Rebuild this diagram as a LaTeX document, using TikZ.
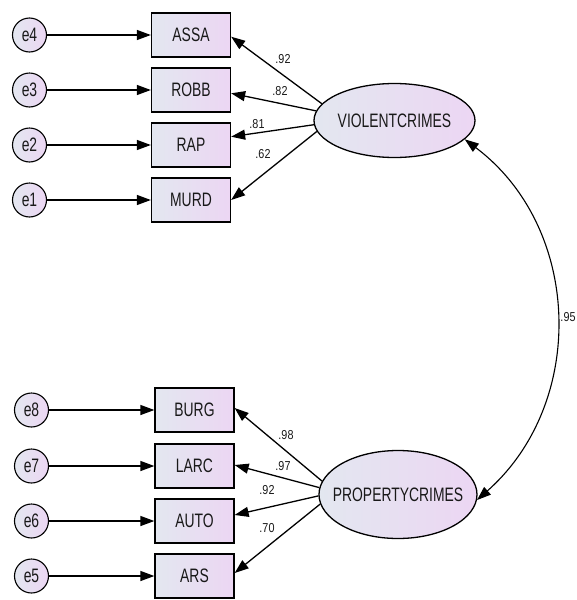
\documentclass[tikz,border=0pt]{standalone}
\usepackage{fontspec}
\usepackage{graphicx}
\setmainfont{Liberation Sans}
\usetikzlibrary{arrows.meta,shapes.geometric,calc}
\definecolor{shadeL}{RGB}{227,231,240}
\definecolor{shadeR}{RGB}{236,214,243}
\definecolor{inkgray}{RGB}{25,25,25}
% tall, narrow lettering of the variable names
\newcommand{\tallname}[1]{\scalebox{1}[1.4]{#1}}
\newcommand{\tallnum}[1]{\scalebox{1}[1.2]{#1}}
\begin{document}
\begin{tikzpicture}[x=1pt,y=1pt,
  shaded/.style={draw=black, line width=1.3pt, left color=shadeL, right color=shadeR,
    inner sep=0pt, text=inkgray, font=\fontsize{13.9}{14}\selectfont},
  obsbox/.style={shaded, rectangle, minimum width=79pt, minimum height=44pt},
  errnode/.style={shaded, circle, minimum size=34pt, line width=1.1pt},
  latent/.style={shaded, ellipse, inner xsep=-20pt},
  regpath/.style={line width=1.3pt, -{Triangle[length=14pt,width=10pt]}},
  covpath/.style={line width=1.1pt, {Triangle[length=14pt,width=10pt]}-{Triangle[length=14pt,width=10pt]}},
  coef/.style={font=\fontsize{10.8}{11}\selectfont, text=inkgray, inner sep=0pt},
]
\useasboundingbox (0,0) rectangle (576,-600);

% ---- violent crimes block ----
\node[errnode] (e4) at (29.5,-35)  {\tallname{e4}};
\node[errnode] (e3) at (29.5,-90)  {\tallname{e3}};
\node[errnode] (e2) at (29.5,-145) {\tallname{e2}};
\node[errnode] (e1) at (29.5,-200) {\tallname{e1}};

\node[obsbox] (ASSA) at (191,-35)  {\tallname{ASSA}};
\node[obsbox] (ROBB) at (191,-90)  {\tallname{ROBB}};
\node[obsbox] (RAP)  at (191,-145) {\tallname{RAP}};
\node[obsbox] (MURD) at (191,-200) {\tallname{MURD}};

\node[latent, minimum width=161pt, minimum height=74pt] (VC) at (394.5,-120.5) {\tallname{VIOLENTCRIMES}};

\draw[regpath] (e4) -- (ASSA);
\draw[regpath] (e3) -- (ROBB);
\draw[regpath] (e2) -- (RAP);
\draw[regpath] (e1) -- (MURD);

\draw[regpath] (VC.167)   -- ($(ASSA.east)+(0,-1.7)$);
\draw[regpath] (VC.173.9) -- ($(ROBB.east)+(0,-3.3)$);
\draw[regpath] (VC.183.5) -- ($(RAP.east)+(0,8.3)$);
\draw[regpath] (VC.188.3) -- (MURD.east);

\node[coef] (c1) at (283,-59)  {\tallnum{.92}};
\node[coef] (c2) at (280,-91)  {\tallnum{.82}};
\node[coef] (c3) at (257,-124) {\tallnum{.81}};
\node[coef] (c4) at (263,-154) {\tallnum{.62}};

% ---- property crimes block ----
\node[errnode] (e8) at (31.5,-410) {\tallname{e8}};
\node[errnode] (e7) at (31.5,-466) {\tallname{e7}};
\node[errnode] (e6) at (31.5,-521) {\tallname{e6}};
\node[errnode] (e5) at (31.5,-576) {\tallname{e5}};

\node[obsbox] (BURG) at (194.5,-410) {\tallname{BURG}};
\node[obsbox] (LARC) at (194.5,-466) {\tallname{LARC}};
\node[obsbox] (AUTO) at (194.5,-521) {\tallname{AUTO}};
\node[obsbox] (ARS)  at (194.5,-576) {\tallname{ARS}};

\node[latent, minimum width=158pt, minimum height=88pt] (PC) at (398,-494.5) {\tallname{PROPERTYCRIMES}};

\draw[regpath] (e8) -- (BURG);
\draw[regpath] (e7) -- (LARC);
\draw[regpath] (e6) -- (AUTO);
\draw[regpath] (e5) -- (ARS);

\draw[regpath] (PC.170.5) -- ($(BURG.east)+(0,2)$);
\draw[regpath] (PC.175.7) -- ($(LARC.east)+(0,1)$);
\draw[regpath] (PC.181.6) -- ($(AUTO.east)+(0,6)$);
\draw[regpath] (PC.187.3) -- ($(ARS.east)+(0,3)$);

\node[coef] (c5) at (286,-435) {\tallnum{.98}};
\node[coef] (c6) at (283,-466) {\tallnum{.97}};
\node[coef] (c7) at (267,-490) {\tallnum{.92}};
\node[coef] (c8) at (267,-528) {\tallnum{.70}};

% ---- factor covariance ----
\draw[covpath] (VC.-15) .. controls +(-37:147) and +(41.5:147) .. (PC.-4);
\node[coef] (c9) at (568,-317) {\tallnum{.95}};
\end{tikzpicture}
\end{document}
